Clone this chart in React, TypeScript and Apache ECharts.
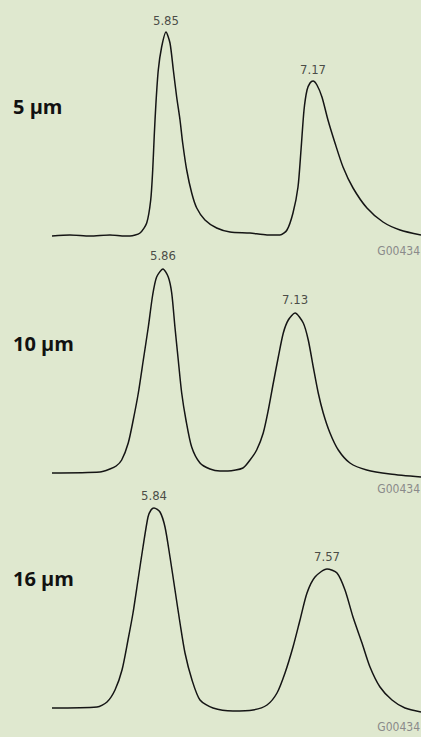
import React, { useEffect, useRef } from "react";
import * as echarts from "echarts";

// Panel labels (particle size)
const panelLabels = ["5 µm", "10 µm", "16 µm"];
const figureCode = "G00434";

// 5 µm chromatogram: retention time (min) and detector signal (relative units)
const p5Time = [4.827, 4.988, 5.168, 5.347, 5.482, 5.527, 5.617, 5.677, 5.713, 5.731, 5.745, 5.76, 5.781, 5.811, 5.85, 5.886, 5.916, 5.946, 5.976, 6.0, 6.036, 6.081, 6.126, 6.2, 6.305, 6.425, 6.604, 6.757, 6.873, 6.936, 6.99, 7.035, 7.062, 7.089, 7.116, 7.143, 7.17, 7.205, 7.25, 7.304, 7.367, 7.439, 7.529, 7.654, 7.798, 7.951, 8.139];
const p5Signal = [0, 1, 0, 1, 0, 0, 3, 13, 36, 66, 101, 133, 166, 189, 204, 193, 166, 139, 116, 93, 66, 43, 28, 16, 8, 4, 3, 1, 1, 6, 23, 49, 86, 126, 146, 153, 155, 151, 139, 116, 93, 69, 48, 28, 14, 6, 1];
const p5Peaks = [5.85, 7.17];

// 10 µm chromatogram
const p10Time = [4.793, 5.254, 5.35, 5.41, 5.463, 5.526, 5.574, 5.623, 5.671, 5.719, 5.761, 5.799, 5.86, 5.911, 5.944, 5.975, 6.007, 6.04, 6.081, 6.136, 6.216, 6.312, 6.408, 6.485, 6.629, 6.697, 6.761, 6.824, 6.873, 6.921, 6.969, 7.017, 7.065, 7.13, 7.209, 7.257, 7.305, 7.353, 7.401, 7.466, 7.546, 7.658, 7.819, 8.043, 8.341];
const p10Signal = [0, 1, 4, 7, 13, 30, 53, 80, 113, 146, 178, 196, 204, 196, 180, 146, 113, 80, 53, 26, 10, 4, 2, 2, 5, 13, 23, 40, 63, 90, 116, 140, 153, 160, 150, 133, 106, 80, 60, 40, 23, 10, 3, -1, -4];
const p10Peaks = [5.86, 7.13];

// 16 µm chromatogram
const p16Time = [4.82, 5.27, 5.37, 5.45, 5.52, 5.58, 5.63, 5.68, 5.73, 5.78, 5.81, 5.84, 5.9, 5.95, 6.0, 6.05, 6.1, 6.15, 6.22, 6.3, 6.43, 6.63, 6.83, 6.97, 7.07, 7.15, 7.23, 7.3, 7.37, 7.45, 7.57, 7.67, 7.75, 7.83, 7.92, 8.0, 8.1, 8.22, 8.35, 8.51];
const p16Signal = [0, 1, 6, 18, 38, 68, 95, 128, 161, 191, 198, 200, 196, 181, 151, 118, 85, 55, 28, 8, 0, -3, -2, 3, 15, 35, 61, 88, 115, 131, 139, 135, 118, 91, 65, 41, 21, 8, 0, -4];
const p16Peaks = [5.84, 7.57];

const panels = [
  { time: p5Time, signal: p5Signal, peaks: p5Peaks, top: 21, labelY: 107, codeY: 252, dist: 5 },
  { time: p10Time, signal: p10Signal, peaks: p10Peaks, top: 258, labelY: 344, codeY: 490, dist: 7 },
  { time: p16Time, signal: p16Signal, peaks: p16Peaks, top: 493, labelY: 579, codeY: 728, dist: 6 },
];

const NARROW = "'DejaVu Sans Condensed', 'Liberation Sans Narrow', Roboto, sans-serif";

export default function App() {
  const ref = useRef<HTMLDivElement>(null);
  useEffect(() => {
    if (!ref.current) return;
    const chart = echarts.init(ref.current, undefined, { renderer: "svg" });
    const grid: any[] = [];
    const xAxis: any[] = [];
    const yAxis: any[] = [];
    const series: any[] = [];
    const graphic: any[] = [];
    panels.forEach((p, i) => {
      grid.push({ left: 52, right: 0, top: p.top, height: 225 });
      xAxis.push({
        type: "value",
        gridIndex: i,
        min: p.time[0],
        max: p.time[p.time.length - 1],
        show: false,
      });
      yAxis.push({ type: "value", gridIndex: i, min: -10, max: 215, show: false });
      series.push({
        type: "line",
        xAxisIndex: i,
        yAxisIndex: i,
        data: p.time.map((t, k) => [t, p.signal[k]]),
        showSymbol: false,
        symbol: "none",
        smooth: 0.25,
        lineStyle: { color: "#151515", width: 1.5 },
      });
      series.push({
        type: "scatter",
        xAxisIndex: i,
        yAxisIndex: i,
        symbolSize: 1,
        itemStyle: { color: "rgba(0,0,0,0)" },
        data: p.peaks.map((t) => [t, p.signal[p.time.indexOf(t)]]),
        label: {
          show: true,
          position: "top",
          distance: p.dist,
          formatter: (d: any) => d.value[0].toFixed(2),
          fontSize: 13,
          fontFamily: NARROW,
          color: "#222",
        },
      });
      graphic.push({
        type: "text",
        left: 13,
        top: p.labelY - 11,
        style: {
          text: panelLabels[i],
          fontSize: 20,
          fontWeight: "bold",
          fontFamily: "'Open Sans', sans-serif",
          fill: "#111",
        },
      });
      graphic.push({
        type: "text",
        right: 1,
        top: p.codeY - 7,
        style: {
          text: figureCode,
          fontSize: 12,
          fontFamily: NARROW,
          fill: "#8a8a8a",
        },
      });
    });
    chart.setOption({
      animation: false,
      backgroundColor: "#dfe8cf",
      grid,
      xAxis,
      yAxis,
      series,
      graphic,
    });
    return () => chart.dispose();
  }, []);
  return (
    <div
      ref={ref}
      style={{ position: "absolute", left: 0, top: 0, width: 421, height: 737 }}
    />
  );
}
